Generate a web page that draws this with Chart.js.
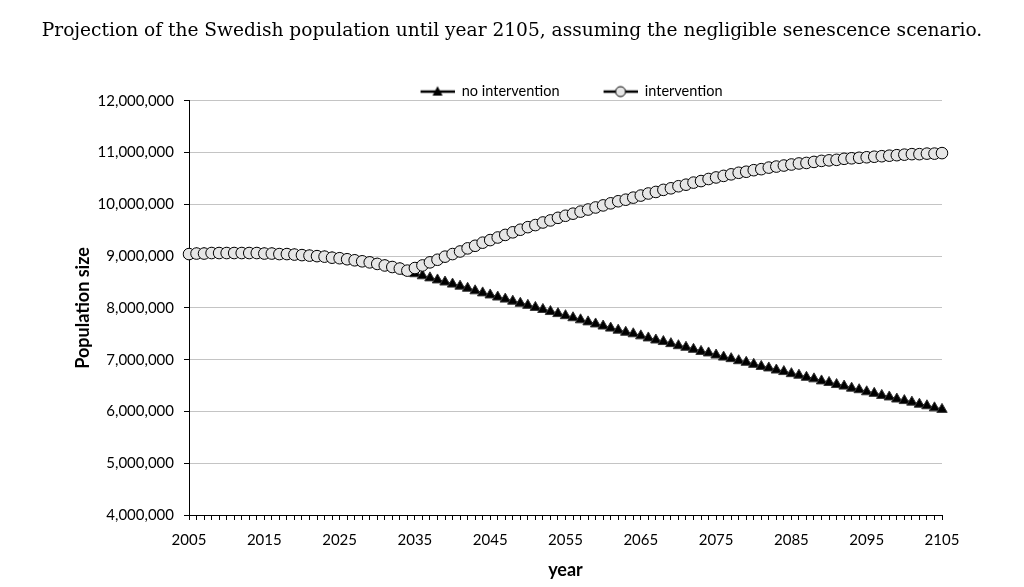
<!DOCTYPE html>
<html>
<head>
<meta charset="utf-8">
<script src="https://cdn.jsdelivr.net/npm/chart.js@4.4.0/dist/chart.umd.min.js"></script>
<style>
  html, body { margin: 0; padding: 0; background: #fff; }
  #wrap { width: 1024px; height: 587px; }
</style>
</head>
<body>
<div id="wrap"><canvas id="popChart" width="1024" height="587"></canvas></div>
<script>
const years = [
  2005, 2006, 2007, 2008, 2009, 2010, 2011, 2012, 2013, 2014,
  2015, 2016, 2017, 2018, 2019, 2020, 2021, 2022, 2023, 2024,
  2025, 2026, 2027, 2028, 2029, 2030, 2031, 2032, 2033, 2034,
  2035, 2036, 2037, 2038, 2039, 2040, 2041, 2042, 2043, 2044,
  2045, 2046, 2047, 2048, 2049, 2050, 2051, 2052, 2053, 2054,
  2055, 2056, 2057, 2058, 2059, 2060, 2061, 2062, 2063, 2064,
  2065, 2066, 2067, 2068, 2069, 2070, 2071, 2072, 2073, 2074,
  2075, 2076, 2077, 2078, 2079, 2080, 2081, 2082, 2083, 2084,
  2085, 2086, 2087, 2088, 2089, 2090, 2091, 2092, 2093, 2094,
  2095, 2096, 2097, 2098, 2099, 2100, 2101, 2102, 2103, 2104,
  2105
];

// population in millions, both scenarios identical 2005-2033
const sharedEarly = [
  9.04, 9.05, 9.05, 9.06, 9.06, 9.06, 9.06, 9.06, 9.06, 9.06,
  9.05, 9.05, 9.04, 9.04, 9.03, 9.02, 9.01, 9.00, 8.99, 8.97,
  8.96, 8.94, 8.92, 8.90, 8.88, 8.85, 8.82, 8.79, 8.76
];

// 2034-2105
const noInterventionLate = [
  8.70, 8.66, 8.62, 8.58, 8.54, 8.50,
  8.46, 8.42, 8.38, 8.33, 8.29, 8.25, 8.21, 8.17, 8.13, 8.09,
  8.05, 8.01, 7.97, 7.93, 7.89, 7.85, 7.81, 7.77, 7.73, 7.69,
  7.65, 7.61, 7.57, 7.53, 7.50, 7.46, 7.42, 7.38, 7.35, 7.31,
  7.27, 7.24, 7.20, 7.16, 7.13, 7.09, 7.05, 7.02, 6.98, 6.95,
  6.91, 6.87, 6.84, 6.80, 6.77, 6.73, 6.70, 6.66, 6.63, 6.59,
  6.56, 6.52, 6.49, 6.45, 6.42, 6.38, 6.35, 6.31, 6.28, 6.24,
  6.21, 6.18, 6.14, 6.11, 6.07, 6.04
];

const interventionLate = [
  8.72, 8.77, 8.82, 8.88, 8.93, 8.99,
  9.04, 9.09, 9.15, 9.20, 9.26, 9.31, 9.36, 9.41, 9.46, 9.51,
  9.56, 9.60, 9.65, 9.69, 9.74, 9.78, 9.82, 9.86, 9.90, 9.94,
  9.98, 10.02, 10.06, 10.09, 10.13, 10.17, 10.21, 10.24, 10.28, 10.31,
  10.35, 10.38, 10.42, 10.45, 10.49, 10.52, 10.55, 10.58, 10.61, 10.63,
  10.66, 10.68, 10.71, 10.73, 10.75, 10.77, 10.79, 10.80, 10.82, 10.84,
  10.85, 10.86, 10.88, 10.89, 10.90, 10.91, 10.92, 10.93, 10.94, 10.95,
  10.96, 10.97, 10.97, 10.98, 10.98, 10.99
];

const tickFont = { family: "Lato, 'Open Sans', sans-serif", size: 15 };
const legendFont = { family: "Lato, 'Open Sans', sans-serif", size: 14.5 };
const titleFont = { family: "Lato, 'Open Sans', sans-serif", size: 18, weight: "bold" };

// legend icon: short line with the marker in the middle
function legendIcon(kind) {
  const c = document.createElement("canvas");
  c.width = 46;
  c.height = 14;
  const g = c.getContext("2d");
  g.strokeStyle = "#000";
  g.lineWidth = 2.5;
  g.beginPath();
  g.moveTo(12, 7);
  g.lineTo(46, 7);
  g.stroke();
  g.lineWidth = 1;
  if (kind === "triangle") {
    g.fillStyle = "#000";
    g.beginPath();
    g.moveTo(29, 1.5);
    g.lineTo(34, 11);
    g.lineTo(24, 11);
    g.closePath();
    g.fill();
  } else {
    g.fillStyle = "#e6e6e6";
    g.beginPath();
    g.arc(29, 7, 5, 0, Math.PI * 2);
    g.fill();
    g.stroke();
  }
  return c;
}
const legendIcons = [legendIcon("triangle"), legendIcon("circle")];

// moves the legend down onto the top gridline area like the original
const legendNudge = {
  id: "legendNudge",
  afterLayout(chart) {
    chart.legend.top += 8;
    chart.legend.bottom += 8;
  },
};

new Chart(document.getElementById("popChart"), {
  type: "line",
  data: {
    labels: years,
    datasets: [
      {
        label: "no intervention",
        data: sharedEarly.concat(noInterventionLate),
        borderColor: "#000",
        borderWidth: 2,
        pointStyle: "triangle",
        pointRadius: 6,
        pointBackgroundColor: "#000",
        pointBorderColor: "#333",
        pointBorderWidth: 1,
        tension: 0,
        order: 1,
      },
      {
        label: "intervention",
        data: sharedEarly.concat(interventionLate),
        borderColor: "#000",
        borderWidth: 2,
        pointStyle: "circle",
        pointRadius: 5.8,
        pointBackgroundColor: "#e6e6e6",
        pointBorderColor: "#000",
        pointBorderWidth: 1,
        tension: 0,
        order: 0,
      },
    ],
  },
  options: {
    responsive: false,
    animation: false,
    events: [],
    layout: {
      padding: 0,
    },
    plugins: {
      title: {
        display: true,
        text: "Projection of the Swedish population until year 2105, assuming the negligible senescence scenario.",
        color: "#000",
        font: { family: "'DejaVu Serif', 'Liberation Serif', serif", size: 18.6, weight: "normal" },
        padding: { top: 20, bottom: 2 },
      },
      legend: {
        position: "top",
        fullSize: false,
        labels: {
          usePointStyle: true,
          pointStyleWidth: 46,
          padding: 32,
          color: "#000",
          font: legendFont,
          generateLabels: (chart) =>
            chart.data.datasets.map((ds, i) => ({
              text: ds.label,
              pointStyle: legendIcons[i],
              datasetIndex: i,
              fontColor: "#000",
              fillStyle: "#000",
              strokeStyle: "#000",
              lineWidth: 0,
              hidden: false,
            })),
        },
      },
      tooltip: { enabled: false },
    },
    scales: {
      x: {
        type: "category",
        title: {
          display: true,
          text: "year",
          color: "#000",
          font: titleFont,
          padding: { top: 4, bottom: 6 },
        },
        ticks: {
          autoSkip: false,
          maxRotation: 0,
          color: "#000",
          font: tickFont,
          padding: 11,
          callback: function (val, i) {
            return i % 10 === 0 ? this.getLabelForValue(val) : "";
          },
        },
        grid: {
          drawOnChartArea: false,
          drawTicks: true,
          tickLength: 5,
          tickColor: "#000",
        },
        border: { color: "#000", width: 1 },
        afterFit: (scale) => {
          scale.height = 72;
        },
      },
      y: {
        min: 4,
        max: 12,
        title: {
          display: true,
          text: "Population size",
          color: "#000",
          font: titleFont,
          padding: { top: 72, bottom: 4 },
        },
        ticks: {
          stepSize: 1,
          color: "#000",
          font: tickFont,
          padding: 10,
          callback: (v) => Math.round(v * 1000000).toLocaleString("en-US"),
        },
        grid: {
          color: "#c4c4c4",
          lineWidth: 1,
          tickLength: 5,
          tickColor: "#000",
        },
        border: { color: "#000", width: 1 },
        afterFit: (scale) => {
          scale.width = 189;
        },
      },
      // empty right-hand spacer so the plot ends where the original does
      spacer: {
        type: "linear",
        position: "right",
        min: 4,
        max: 12,
        grid: { display: false, drawTicks: false },
        ticks: { display: false },
        border: { display: false },
        afterFit: (scale) => {
          scale.width = 82;
        },
      },
    },
  },
  plugins: [legendNudge],
});
</script>
</body>
</html>
